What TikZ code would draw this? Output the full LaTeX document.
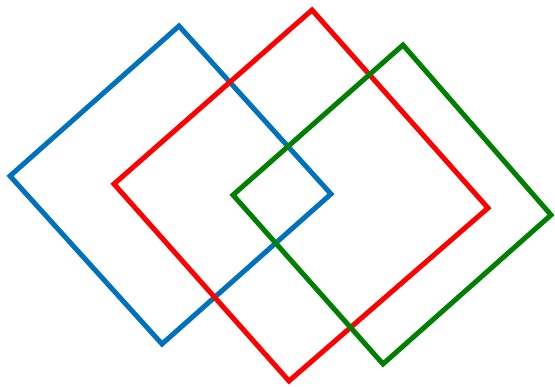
\documentclass[tikz,border=0pt]{standalone}
\definecolor{mblue}{RGB}{0,114,189}
\definecolor{mred}{RGB}{255,0,0}
\definecolor{mgreen}{RGB}{0,128,0}
\tikzset{sq/.style={line width=5pt, line join=miter}}
\begin{document}
\begin{tikzpicture}[x=1pt,y=-1pt]
\useasboundingbox (0,0) rectangle (555,387);
\draw[sq, mblue] (179,26) -- (331,194) -- (162,344) -- (10,176) -- cycle;
\draw[sq, mred] (312,10) -- (488,208) -- (289,381) -- (114,184) -- cycle;
\draw[sq, mgreen] (403,45) -- (551,215) -- (383,364) -- (233,195) -- cycle;
\end{tikzpicture}
\end{document}
